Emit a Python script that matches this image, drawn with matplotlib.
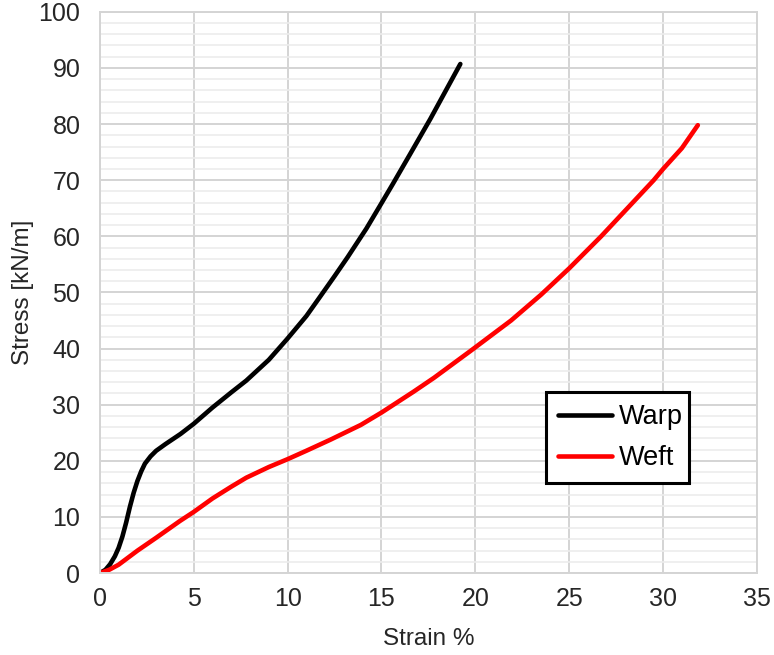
import matplotlib.pyplot as plt
from matplotlib.ticker import MultipleLocator

plt.rcParams['font.family'] = ['Liberation Sans', 'DejaVu Sans']

# Warp curve (strain %, stress kN/m)
warp_strain = [0, 0.3, 0.55, 0.8, 1.0, 1.2, 1.4, 1.6, 1.8, 2.0, 2.2, 2.4, 2.7, 3.0, 3.5,
               4.3, 5.0, 6.0, 7.0, 7.8, 9.0, 10.0, 11.0, 11.7, 12.5, 13.2, 14.2, 15.0,
               15.6, 16.5, 17.6, 18.4, 19.2]
warp_stress = [0, 0.6, 1.6, 3.0, 4.5, 6.5, 9.0, 11.8, 14.3, 16.4, 18.1, 19.5, 20.8, 21.8, 23.0,
               24.8, 26.6, 29.5, 32.2, 34.3, 38.0, 41.8, 45.8, 49.1, 52.9, 56.3, 61.4, 65.9,
               69.3, 74.5, 80.9, 85.8, 90.7]

# Weft curve
weft_strain = [0, 0.5, 1.0, 2.0, 3.0, 4.27, 5.0, 6.0, 7.0, 7.8, 9.0, 10.0, 11.0, 12.3, 13.9,
               15.0, 16.7, 17.8, 19.75, 21.9, 23.5, 25.0, 26.7, 28.1, 29.5, 30.0, 31.0, 31.85]
weft_stress = [0, 0.6, 1.5, 4.0, 6.3, 9.3, 10.9, 13.3, 15.4, 17.0, 18.9, 20.3, 21.8, 23.8, 26.4,
               28.6, 32.3, 34.8, 39.6, 45.0, 49.6, 54.3, 60.0, 65.0, 70.0, 72.0, 75.7, 79.8]

fig = plt.figure(figsize=(7.74, 6.55), dpi=100)
ax = fig.add_axes([0.129, 0.125, 0.849, 0.857])

ax.plot(warp_strain, warp_stress, color='black', lw=3.3, label='Warp',
        solid_capstyle='round', solid_joinstyle='round')
ax.plot(weft_strain, weft_stress, color='#ff0000', lw=3.3, label='Weft',
        solid_capstyle='round', solid_joinstyle='round')

ax.set_xlim(0, 35)
ax.set_ylim(0, 100)
ax.xaxis.set_major_locator(MultipleLocator(5))
ax.yaxis.set_major_locator(MultipleLocator(10))
ax.yaxis.set_minor_locator(MultipleLocator(2))

ax.grid(which='major', color='#d4d4d4', lw=1.4)
ax.grid(which='minor', axis='y', color='#ececec', lw=1.2)
ax.set_axisbelow(True)
for s in ax.spines.values():
    s.set_color('#d4d4d4')
    s.set_linewidth(1.4)

ax.tick_params(which='both', length=0, labelsize=18, colors='#262626')
ax.tick_params(axis='x', pad=10)
ax.tick_params(axis='y', pad=14)

ax.set_xlabel('Strain %', fontsize=17.5, color='#262626', labelpad=12)
ax.set_ylabel('Stress [kN/m]', fontsize=17.5, color='#262626', labelpad=3)

leg = ax.legend(loc='lower left', bbox_to_anchor=(0.679, 0.160, 0.218, 0.162), mode='expand',
                fontsize=19.5, frameon=True, fancybox=False, handlelength=2.0,
                borderaxespad=0, labelspacing=0.55, handletextpad=0.25, borderpad=0.45)
leg.get_frame().set_edgecolor('black')
leg.get_frame().set_linewidth(2.2)
leg.get_frame().set_alpha(1)

fig.savefig('out.png', dpi=100)
